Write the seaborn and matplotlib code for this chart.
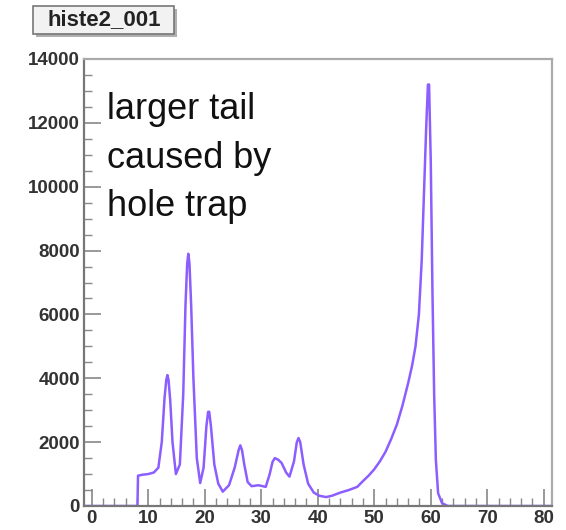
import matplotlib
matplotlib.use("Agg")
import matplotlib.pyplot as plt
import matplotlib.patches as mpatches
from matplotlib.ticker import MultipleLocator
import seaborn as sns
import pandas as pd

# ---- data ----
energy = [-1.36, 8.1, 8.2, 9.0, 10.0, 11.0, 11.8, 12.4, 12.9, 13.2, 13.4, 13.6, 13.9, 14.3, 14.9,
          15.6, 16.2, 16.6, 16.9, 17.1, 17.3, 17.6, 18.0, 18.6, 19.2, 19.8, 20.3, 20.6, 20.8, 21.1,
          21.7, 22.4, 23.2, 24.3, 25.3, 26.0, 26.3, 26.6, 27.0, 27.6, 28.3, 29.5, 30.8, 31.5,
          32.0, 32.4, 33.0, 33.6, 34.4, 35.0, 35.8, 36.3, 36.6, 36.9, 37.5, 38.3, 39.3, 40.3,
          41.5, 42.5, 44.0, 45.5, 47.0, 48.0, 49.0, 50.0, 51.0, 52.0, 53.0, 54.0,
          55.0, 56.0, 56.7, 57.3, 57.9, 58.4, 58.8, 59.2, 59.5, 59.7, 60.0, 60.3, 60.6,
          60.9, 61.3, 62.0, 63.0, 81.4]
counts = [0, 0, 950, 980, 1000, 1050, 1200, 2000, 3400, 3950, 4100, 3950, 3300, 2000, 1000,
          1300, 3500, 6300, 7600, 7900, 7600, 6300, 4000, 1500, 720, 1200, 2500, 2950, 2950, 2500,
          1300, 700, 450, 650, 1200, 1750, 1900, 1750, 1300, 750, 620, 650, 600, 1000,
          1380, 1500, 1450, 1350, 1050, 920, 1400, 2000, 2130, 2000, 1300, 700, 420, 320,
          280, 320, 420, 500, 600, 780, 950, 1150, 1400, 1700, 2100, 2550,
          3150, 3850, 4400, 5000, 6000, 7700, 9800, 11900, 13200, 13200, 10800, 6700, 3500,
          1450, 400, 90, 0, 0]

x_ticks = [0, 10, 20, 30, 40, 50, 60, 70, 80]
y_ticks = [0, 2000, 4000, 6000, 8000, 10000, 12000, 14000]
title = "histe2_001"
note = "larger tail\ncaused by\nhole trap"

df = pd.DataFrame({"energy": energy, "counts": counts})

sns.set_theme(style="white")
plt.rcParams["font.family"] = ["Liberation Sans", "DejaVu Sans"]

fig = plt.figure(figsize=(5.66, 5.30), dpi=100)
ax = fig.add_axes([84 / 566, 24 / 530, (551.7 - 84) / 566, (506 - 59) / 530])

sns.lineplot(data=df, x="energy", y="counts", ax=ax, color="#8c5eff",
             linewidth=1.8, legend=False)

ax.set_xlim(-1.36, 81.4)
ax.set_ylim(0, 14000)
ax.set_xticks(x_ticks)
ax.set_yticks(y_ticks)
ax.xaxis.set_minor_locator(MultipleLocator(2))
ax.yaxis.set_minor_locator(MultipleLocator(500))
ax.set_xticklabels([str(v) for v in x_ticks], fontweight="bold", fontsize=13.5, color="#333333")
ax.set_yticklabels([str(v) for v in y_ticks], fontweight="bold", fontsize=13.5, color="#333333")
ax.tick_params(axis="both", which="major", direction="in", length=12, width=1.2,
               color="#888888", pad=3)
ax.tick_params(axis="both", which="minor", direction="in", length=6, width=1.0,
               color="#888888")
ax.tick_params(axis="x", which="both", bottom=True, top=False)
ax.tick_params(axis="y", which="both", left=True, right=False)
ax.set_xlabel("")
ax.set_ylabel("")
for side in ["left", "bottom"]:
    ax.spines[side].set_color("#777777")
    ax.spines[side].set_linewidth(1.6)
for side in ["top", "right"]:
    ax.spines[side].set_color("#aaaaaa")
    ax.spines[side].set_linewidth(1.6)

fig.text(107 / 566, 1 - 92 / 530, note, fontsize=26, color="#111111",
         ha="left", va="top", linespacing=1.5)

# title box with shadow
fig.patches.append(mpatches.Rectangle((36 / 566, 1 - 37 / 530), 141 / 566, 28 / 530,
                                      transform=fig.transFigure, facecolor="#b0b0b0",
                                      edgecolor="none", zorder=1))
fig.patches.append(mpatches.Rectangle((33 / 566, 1 - 34 / 530), 141 / 566, 28 / 530,
                                      transform=fig.transFigure, facecolor="#f2f2f2",
                                      edgecolor="#777777", linewidth=1.2, zorder=2))
fig.text(104 / 566, 1 - 20 / 530, title, fontsize=16, fontweight="bold",
         color="#222222", ha="center", va="center", zorder=3)

fig.savefig("out.png", dpi=100)
